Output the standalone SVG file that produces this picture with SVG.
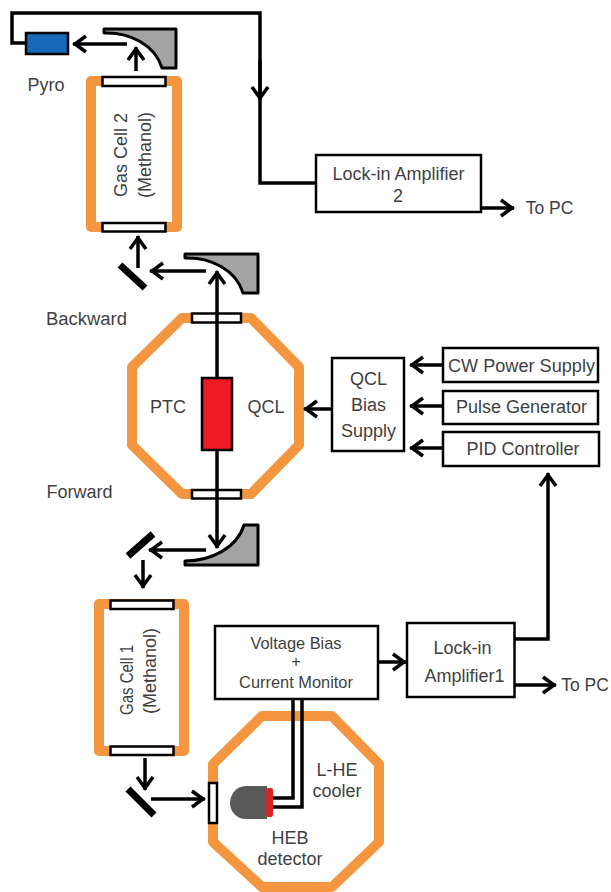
<svg xmlns="http://www.w3.org/2000/svg" width="611" height="892" viewBox="0 0 611 892">
<style>
text{font-family:"Liberation Sans",Arial,sans-serif;font-size:18px;fill:#3f3f3f;text-anchor:middle}
.w{fill:none;stroke:#000;stroke-width:3.5}
.a{fill:none;stroke:#000;stroke-width:3.5}
.box{fill:#fff;stroke:#000;stroke-width:2.5}
.win{fill:#fff;stroke:#000;stroke-width:2.5}
.or{fill:none;stroke:#f4953f;stroke-width:10;stroke-linejoin:round}
.mir{fill:#a3a3a3;stroke:#000;stroke-width:3;stroke-linejoin:round}
.flat{stroke:#000;stroke-width:7;fill:none}
.s{font-size:16.4px}
</style>
<defs>
<marker id="h" markerUnits="userSpaceOnUse" markerWidth="24" markerHeight="24" refX="20" refY="12" orient="auto">
<path d="M7 4L18 12L7 20" fill="none" stroke="#000" stroke-width="3.5"/>
</marker>
</defs>
<rect width="611" height="892" fill="#fff"/>
<g id="gas-cell-2"><rect class="or" x="91" y="81" width="86" height="146"/><rect class="win" x="102.500" y="77" width="63" height="9"/><rect class="win" x="102.500" y="223" width="63" height="8.500"/><text transform="translate(127 155) rotate(-90)">Gas Cell 2</text><text transform="translate(151 155) rotate(-90)">(Methanol)</text></g>
<g id="ptc-qcl"><polygon class="or" points="182,318 251,318 299,367 299,445 251,494 182,494 132,445 132,367"/><rect class="win" x="192" y="313.500" width="49" height="9"/><rect class="win" x="192" y="490" width="49" height="8.500"/><text x="168" y="413">PTC</text><text x="266" y="413">QCL</text></g>
<g id="gas-cell-1"><rect class="or" x="99" y="604" width="85" height="147"/><rect class="win" x="110.500" y="600.500" width="63" height="8.500"/><rect class="win" x="110.500" y="746.500" width="63" height="8.500"/><text transform="translate(133 680) rotate(-90)" textLength="70" lengthAdjust="spacingAndGlyphs">Gas Cell 1</text><text transform="translate(156 671) rotate(-90)">(Methanol)</text></g>
<g id="heb-cooler"><polygon class="or" points="262,716 332,716 379,764 379,842 332,887 262,887 213,842 213,764"/><rect class="win" x="209" y="783" width="8" height="40"/><text x="337" y="776">L-HE</text><text x="337" y="797">cooler</text><text x="290" y="844">HEB</text><text x="290" y="865">detector</text></g>
<g id="connectors">
<path class="w" d="M26 43H12V13H260V183H316"/>
<path class="a" d="M260 60V100" marker-end="url(#h)"/>
<path class="a" d="M127 44H73" marker-end="url(#h)"/>
<path class="a" d="M136 71V47" marker-end="url(#h)"/>
<path class="a" d="M206 271H150" marker-end="url(#h)"/>
<path class="a" d="M138 268V236" marker-end="url(#h)"/>
<path class="a" d="M217 296V271" marker-end="url(#h)"/>
<path class="w" d="M217 296V378"/>
<path class="a" d="M217 450V548" marker-end="url(#h)"/>
<path class="a" d="M206 550H149" marker-end="url(#h)"/>
<path class="a" d="M143 560V588" marker-end="url(#h)"/>
<path class="a" d="M145 758V790" marker-end="url(#h)"/>
<path class="a" d="M151 799H205" marker-end="url(#h)"/>
<path class="w" d="M293 699V798H272"/>
<path class="w" d="M302 699V807H272"/>
<path class="a" d="M378 662H406" marker-end="url(#h)"/>
<path class="w" d="M515 639H548V473" marker-end="url(#h)"/>
<path class="a" d="M515 685H556" marker-end="url(#h)"/>
<path class="a" d="M481 208H514" marker-end="url(#h)"/>
<path class="a" d="M443 365H410" marker-end="url(#h)"/>
<path class="a" d="M443 406H410" marker-end="url(#h)"/>
<path class="a" d="M443 448H410" marker-end="url(#h)"/>
<path class="a" d="M332 409H304" marker-end="url(#h)"/>
</g>
<g id="pyro"><rect x="26" y="33" width="42" height="21" fill="#1769b8" stroke="#000" stroke-width="2.5"/><text x="46" y="91">Pyro</text></g>
<g id="mirror-top"><path class="mir" d="M104 29H176V68H162C155 45 130 32 104 33Z"/></g>
<g id="mirror-backward"><path class="mir" d="M185 254H258V293H243C236 270 211 257 185 258Z"/><path class="flat" d="M120 265L145 288"/><text x="86.500" y="325" textLength="81" lengthAdjust="spacingAndGlyphs">Backward</text></g>
<g id="mirror-forward"><path class="mir" d="M185 565H258V525H244C237 548 211 561 185 561Z"/><path class="flat" d="M128 556L153 534"/><text x="79.500" y="498">Forward</text></g>
<g id="flat-mirror-1"><path class="flat" d="M128 789L154 815"/></g>
<g id="qcl"><rect x="202" y="378" width="30" height="72" fill="#ed1c24" stroke="#000" stroke-width="2.5"/></g>
<g id="heb"><path d="M267 786H246C236 786 230 795 230 803C230 811 236 819 246 819H267Z" fill="#595959"/><rect x="266" y="788" width="7" height="29" rx="2" fill="#d8232a"/></g>
<g id="lock-in-2"><rect class="box" x="316" y="155" width="165" height="57"/><text x="398.500" y="180">Lock-in Amplifier</text><text x="398" y="202">2</text></g>
<g id="qcl-bias"><rect class="box" x="332" y="358" width="72" height="93"/><text x="368.500" y="385">QCL</text><text x="368.500" y="411">Bias</text><text x="368.500" y="437">Supply</text></g>
<g id="cw"><rect class="box" x="443" y="348" width="155" height="34"/><text x="521.500" y="372" textLength="147" lengthAdjust="spacingAndGlyphs">CW Power Supply</text></g>
<g id="pulse"><rect class="box" x="443" y="391" width="155" height="33"/><text x="521.500" y="413">Pulse Generator</text></g>
<g id="pid"><rect class="box" x="443" y="432" width="156" height="34"/><text x="523" y="455">PID Controller</text></g>
<g id="voltage-bias"><rect class="box" x="215" y="626" width="163" height="73"/><text class="s" x="296" y="649">Voltage Bias</text><text class="s" x="296" y="667">+</text><text class="s" x="296" y="688">Current Monitor</text></g>
<g id="lock-in-1"><rect class="box" x="407" y="623" width="107.500" height="74"/><text x="462.500" y="654">Lock-in</text><text x="464.500" y="682">Amplifier1</text></g>
<g id="to-pc"><text x="549.500" y="214" style="font-size:17.500px">To PC</text><text x="585" y="691" style="font-size:17.500px">To PC</text></g>
</svg>
